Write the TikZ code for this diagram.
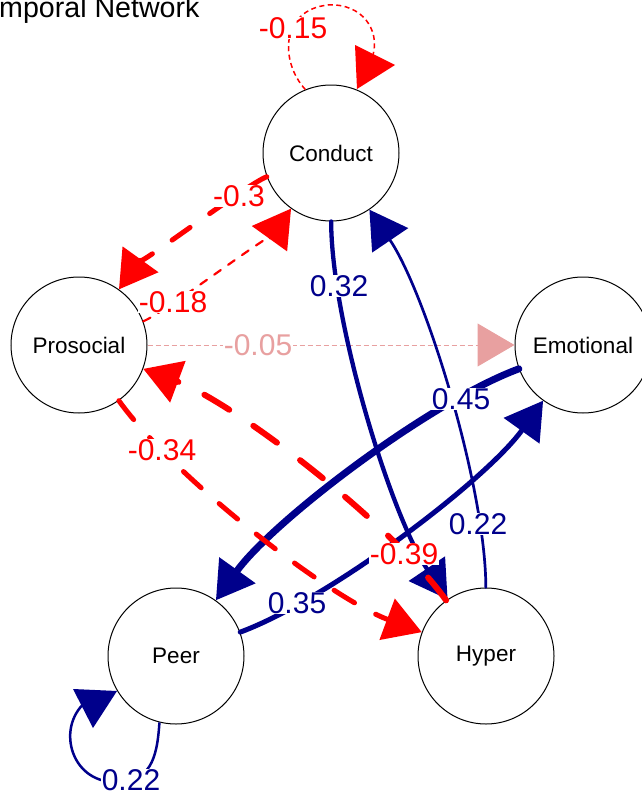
\documentclass[tikz,border=0pt]{standalone}
\usepackage{fontspec}
\setmainfont{Liberation Sans}
\usetikzlibrary{arrows.meta}
\definecolor{negred}{RGB}{255,0,0}
\definecolor{posblue}{RGB}{0,0,139}
\definecolor{fadered}{RGB}{232,160,160}
\begin{document}
\begin{tikzpicture}[x=1pt,y=1pt,
  var/.style={circle,draw=black,line width=1pt,minimum size=136pt,inner sep=0pt,
    font=\fontsize{22.5}{27}\selectfont},
  tipA/.style={-{Triangle[length=37pt,width=43pt]}},
  elabel/.style={fill=white,inner sep=0.5pt,font=\fontsize{30}{36}\selectfont},
  posedge/.style={posblue,line cap=round},
  negedge/.style={negred,line cap=round},
  longbend/.style={bend right=17,looseness=0.65},
  shortbend/.style={bend right=17,looseness=0.3}
]
\useasboundingbox (0,0) rectangle (641,-795);

% title
\node[anchor=base west,inner sep=0pt,font=\fontsize{28.6}{34}\selectfont] (title) at (-1,-17.5) {mporal Network};

% variables
\node[var] (conduct)   at (331,-153) {Conduct};
\node[var] (prosocial) at (79,-345)  {Prosocial};
\node[var] (emotional) at (583,-345) {Emotional};
\node[var] (peer)      at (176,-656) {Peer};
\node[var] (hyper)     at (486,-656) {Hyper};

% self loop on Conduct
\draw[negred,line width=1.5pt,dash pattern=on 5pt off 3.5pt]
  (conduct.112) .. controls (280,-62) and (280,-10) .. (328,-5)
  .. controls (362,-3) and (380,-30) .. (373,-55);
\fill[negred] (355,-45) -- (395,-65) -- (357,-89) -- cycle;

% self loop on Peer
\draw[posblue,line width=2.5pt]
  (peer.256) .. controls (157,-760) and (150,-782) .. (115,-782)
  .. controls (70,-782) and (55,-725) .. (88,-700);
\fill[posblue] (73,-689) -- (117,-691) -- (93,-728) -- cycle;

% faded edge
\draw[fadered,line width=1pt,dash pattern=on 5pt off 3pt,tipA] (prosocial) -- (emotional);

% positive edges
\draw[posedge,line width=4.3pt,tipA] (conduct) to[longbend] (hyper);
\draw[posedge,line width=2.7pt,tipA] (hyper) to[longbend] (conduct);
\draw[posedge,line width=7pt,tipA] (emotional) to[longbend] (peer);
\draw[posedge,line width=5pt,tipA] (peer) to[longbend] (emotional);

% negative edges
\draw[negedge,line width=5pt,dash pattern=on 22pt off 24pt,tipA] (conduct) to[shortbend] (prosocial);
\draw[negedge,line width=2.2pt,dash pattern=on 8pt off 9pt,tipA] (prosocial) to[shortbend] (conduct);
\draw[negedge,line width=5pt,dash pattern=on 24pt off 24pt,tipA] (prosocial) to[longbend] (hyper);
\draw[negedge,line width=6pt,dash pattern=on 29pt off 29pt,tipA] (hyper) to[longbend] (prosocial);

% edge labels
\node[elabel,text=negred]  (l1)  at (293,-28)  {-0.15};
\node[elabel,text=negred]  (l2)  at (239,-196) {-0.3};
\node[elabel,text=negred]  (l3)  at (173,-302) {-0.18};
\node[elabel,text=fadered] (l4)  at (258,-345) {-0.05};
\node[elabel,text=posblue] (l5)  at (339,-286) {0.32};
\node[elabel,text=posblue] (l6)  at (478,-524) {0.22};
\node[elabel,text=posblue] (l7)  at (461,-399) {0.45};
\node[elabel,text=posblue] (l8)  at (297,-603) {0.35};
\node[elabel,text=negred]  (l9)  at (404,-554) {-0.39};
\node[elabel,text=negred]  (l10) at (162,-450) {-0.34};
\node[elabel,text=posblue] (l11) at (131,-780) {0.22};
\end{tikzpicture}
\end{document}
